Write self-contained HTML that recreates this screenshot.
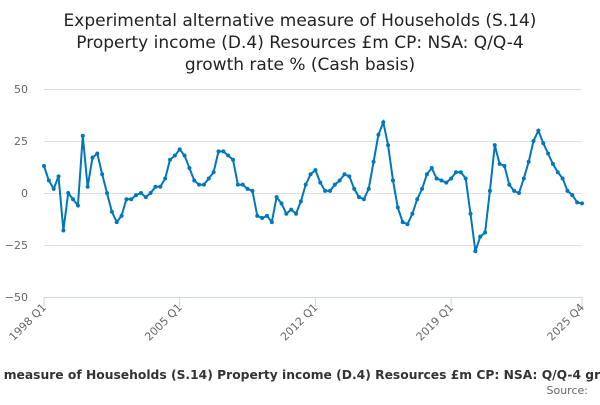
<!DOCTYPE html>
<html><head><meta charset="utf-8"><style>
body{margin:0;width:600px;height:400px;background:#fff;overflow:hidden;font-family:"Liberation Sans","DejaVu Sans",sans-serif}
</style></head><body>
<svg id="s" width="600" height="400" xmlns="http://www.w3.org/2000/svg" font-family="DejaVu Sans, Liberation Sans, sans-serif">
<text x="300" y="26" text-anchor="middle" font-size="17" fill="#222">Experimental alternative measure of Households (S.14)</text>
<text x="300" y="48" text-anchor="middle" font-size="17" fill="#222">Property income (D.4) Resources £m CP: NSA: Q/Q-4</text>
<text x="300" y="70" text-anchor="middle" font-size="17" fill="#222">growth rate % (Cash basis)</text>
<g stroke="#e0e0e0" stroke-width="1">
<line x1="44" x2="582" y1="89.5" y2="89.5"/><line x1="44" x2="582" y1="141.5" y2="141.5"/><line x1="44" x2="582" y1="193.5" y2="193.5"/><line x1="44" x2="582" y1="245.5" y2="245.5"/>
</g>
<line x1="44" x2="582" y1="297.5" y2="297.5" stroke="#ccd6eb"/>
<g font-size="11" fill="#666" text-anchor="end">
<text x="28" y="93">50</text><text x="28" y="145">25</text><text x="28" y="197">0</text><text x="28" y="249">−25</text><text x="28" y="301">−50</text>
</g>
<g id="xt" font-size="11" fill="#666" text-anchor="end"></g>
<g id="d"></g>
<text x="300" y="379" text-anchor="middle" font-size="12.3" font-weight="bold" fill="#333">Experimental alternative measure of Households (S.14) Property income (D.4) Resources £m CP: NSA: Q/Q-4 growth rate % (Cash basis)</text>
<text x="588" y="394" text-anchor="end" font-size="11" fill="#666">Source:</text>
</svg>
<script>
var v=[13,6,2,8,-18,0,-3,-6,27.5,3,17,19,9,0,-9,-14,-11,-3,-3,-1,0,-2,0,3,3,7,16,18,21,18,12,6,4,4,7,10,20,20,18,16,4,4,2,1,-11,-12,-11,-14,-2,-5,-10,-8,-10,-4,4,9,11,5,1,1,4,6,9,8,2,-2,-3,2,15,28,34,23,6,-7,-14,-15,-10,-3,2,9,12,7,6,5,7,10,10,7,-10,-28,-21,-19,1,23,14,13,4,1,0,7,15,25,30,24,19,14,10,7,1,-1,-4.5,-5];
var ns="http://www.w3.org/2000/svg",d=document.getElementById('d'),st=(582-44)/(v.length-1),pts=[];
v.forEach(function(a,i){var x=44+i*st,y=193-a*52/25;pts.push(x.toFixed(1)+','+y.toFixed(1));var c=document.createElementNS(ns,'circle');c.setAttribute('cx',x);c.setAttribute('cy',y);c.setAttribute('r',2);c.setAttribute('fill','#0077bb');d.appendChild(c);});
var p=document.createElementNS(ns,'polyline');p.setAttribute('points',pts.join(' '));p.setAttribute('fill','none');p.setAttribute('stroke','#0077bb');p.setAttribute('stroke-width','2');d.insertBefore(p,d.firstChild);
var xt=document.getElementById('xt');[['1998 Q1',0],['2005 Q1',28],['2012 Q1',56],['2019 Q1',84],['2025 Q4',111]].forEach(function(l){var x=44+l[1]*st;var t=document.createElementNS(ns,'text');t.setAttribute('x',x+3);t.setAttribute('y',308);t.setAttribute('transform','rotate(-45 '+(x+3)+' 308)');t.textContent=l[0];xt.appendChild(t);var tk=document.createElementNS(ns,'line');tk.setAttribute('x1',x);tk.setAttribute('x2',x);tk.setAttribute('y1',297);tk.setAttribute('y2',307);tk.setAttribute('stroke','#ccd6eb');xt.appendChild(tk);});
</script>
</body></html>
